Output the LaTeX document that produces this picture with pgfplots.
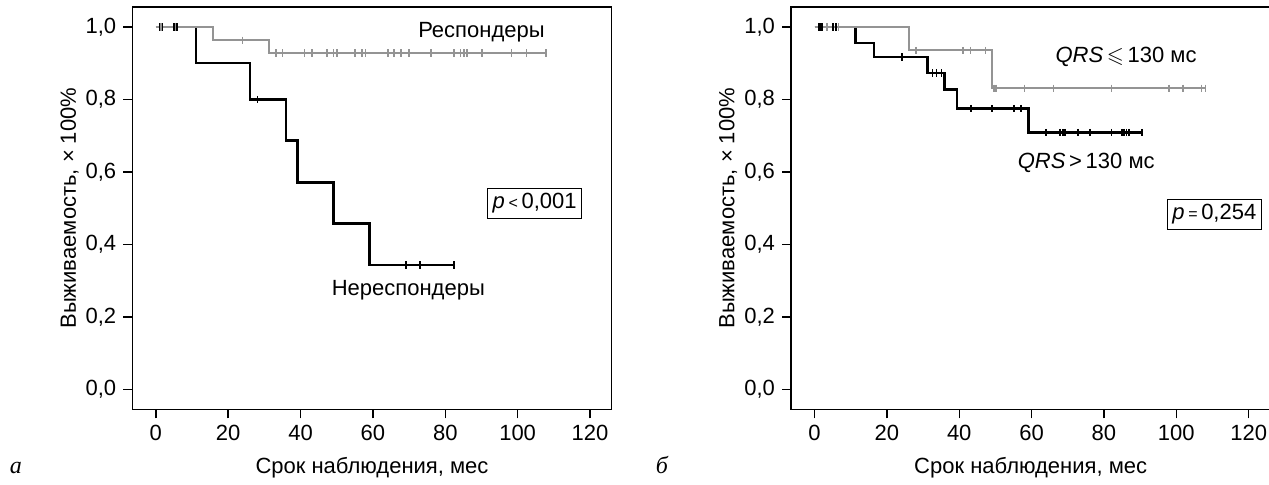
\documentclass[border=0pt]{standalone}
\usepackage{amssymb}
\usepackage{fontspec}
\setmainfont{Liberation Sans}
\newfontfamily\serifit{Liberation Serif}
\usepackage{pgfplots}
\pgfplotsset{compat=1.18}
\definecolor{kmgray}{RGB}{148,148,148}

\pgfplotsset{
  km/.style={
    scale only axis, width=239.7pt, height=201.15pt,
    xmin=-6.5, xmax=126, ymin=-0.055, ymax=1.055,
    xtick={0,20,40,60,80,100,120}, ytick={0,0.2,0.4,0.6,0.8,1},
    tick align=outside, xtick pos=left, ytick pos=left,
    major tick length=4.5pt,
    axis line style={line width=0.7pt},
    every tick/.style={black, line width=0.7pt},
    font=\fontsize{11}{13}\selectfont,
    /pgf/number format/assume math mode=true,
    yticklabel style={/pgf/number format/.cd, fixed, fixed zerofill, precision=1, use comma},
    xlabel={Срок наблюдения, мес},
    ylabel={Выживаемость, × 100\%},
    xlabel style={at={(axis description cs:0.5,0)}, anchor=base, yshift=-32.3pt},
    ylabel style={at={(axis description cs:-0.131,0.5)}, anchor=center},
    clip=false,
  },
  blk/.style={const plot, black, line width=1.3pt},
  gry/.style={const plot, kmgray, line width=1.0pt},
  blkc/.style={only marks, mark=|, mark size=1.8pt, mark options={black, line width=0.9pt}},
  gryc/.style={only marks, mark=|, mark size=1.8pt, mark options={kmgray, line width=0.8pt}},
}

\begin{document}
\begin{tikzpicture}
% panel a
\begin{axis}[km, name=A, at={(0,0)}, anchor=south west]
\addplot[blk] coordinates {
  (0,1) (11.1,0.9) (26.0,0.8) (36.0,0.686) (39.1,0.571) (49.1,0.457) (59.1,0.343) (82.4,0.343)
};
\addplot[blkc] coordinates {
  (1.0,1) (1.8,1) (5.0,1) (5.8,1) (28.1,0.8) (69.2,0.343) (73.1,0.343) (82.4,0.343)
};
\addplot[gry] coordinates {
  (0,1) (15.9,0.963) (31.3,0.928) (107.8,0.928)
};
\addplot[gryc] coordinates {
  (1.4,1) (5.4,1) (24.0,0.963)
  (33.2,0.928) (35.0,0.928) (41.1,0.928) (43.1,0.928) (47.3,0.928) (49.1,0.928)
  (50.1,0.928) (55.1,0.928) (57.0,0.928) (57.9,0.928) (64.1,0.928) (65.9,0.928)
  (67.8,0.928) (69.9,0.928) (76.1,0.928) (82.4,0.928) (84.2,0.928) (85.1,0.928)
  (86.0,0.928) (90.2,0.928) (98.3,0.928) (102.5,0.928) (107.8,0.928)
};
\node[anchor=base] at (axis cs:90,0.972) {Респондеры};
\node[anchor=base] at (axis cs:69.8,0.26) {Нереспондеры};
\node[draw, line width=0.5pt, inner sep=2.5pt] at (axis cs:104.7,0.514)
  {\textit{p}\,{\footnotesize<}\,0,001};
\end{axis}
\node[anchor=base] at (-58.15pt,-32.3pt) {\serifit\itshape\fontsize{12}{14}\selectfont а};

% panel b
\begin{axis}[km, name=B, at={(329.35pt,0pt)}, anchor=south west]
\addplot[blk] coordinates {
  (0,1) (11.4,0.956) (16.4,0.917) (31.2,0.873) (36.0,0.827) (39.4,0.775) (59.2,0.709) (90.5,0.709)
};
\addplot[blkc] coordinates {
  (1.1,1) (1.6,1) (2.0,1) (5.2,1) (5.9,1) (24.2,0.917)
  (32.6,0.873) (33.7,0.873) (35.1,0.873)
  (43.2,0.775) (49.1,0.775) (55.1,0.775) (57.1,0.775)
  (64.0,0.709) (67.9,0.709) (68.6,0.709) (69.3,0.709) (72.9,0.709) (76.1,0.709)
  (82.1,0.709) (85.0,0.709) (85.6,0.709) (86.2,0.709) (87.0,0.709) (90.5,0.709)
};
\addplot[gry] coordinates {
  (0,1) (26.2,0.935) (49.0,0.831) (108.1,0.831)
};
\addplot[gryc] coordinates {
  (3.4,1) (6.6,1) (28.0,0.935) (41.0,0.935) (43.1,0.935) (47.3,0.935)
  (49.6,0.831) (50.1,0.831) (58.0,0.831) (66.0,0.831) (82.1,0.831)
  (98.0,0.831) (101.9,0.831) (106.9,0.831) (108.1,0.831)
};
\node[anchor=base] at (axis cs:86.1,0.9006) {\textit{QRS}\,$\leqslant$\,130 мс};
\node[anchor=base] at (axis cs:75.1,0.6105) {\textit{QRS}\,>\,130 мс};
\node[draw, line width=0.5pt, inner sep=2.5pt] at (axis cs:110.5,0.483)
  {\textit{p}\,{\footnotesize=}\,0,254};
\end{axis}
\node[anchor=base] at (264.85pt,-32.3pt) {\serifit\itshape\fontsize{12}{14}\selectfont б};

\pgfresetboundingbox
\useasboundingbox (-66.15pt,-37.85pt) rectangle (568.35pt,204.65pt);
\end{tikzpicture}
\end{document}
